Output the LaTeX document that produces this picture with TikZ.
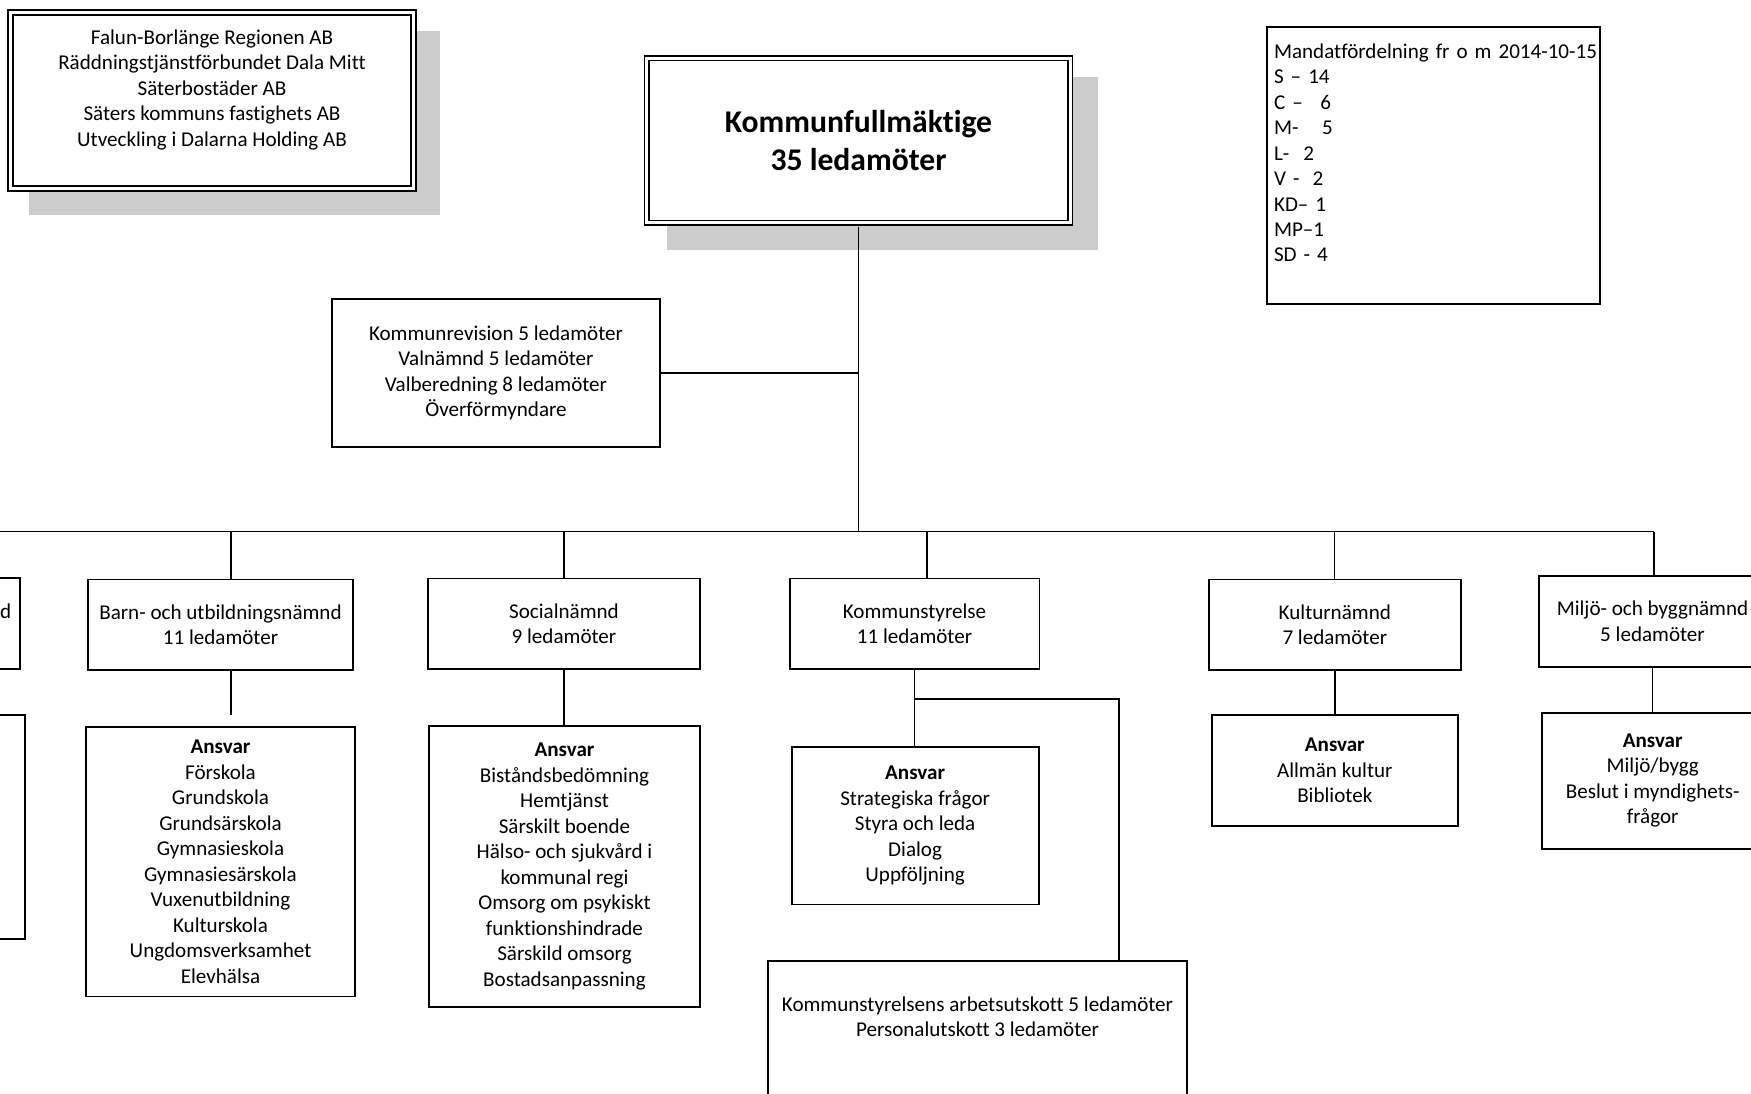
\documentclass[tikz,border=0pt]{standalone}
\usepackage{fontspec}
\setmainfont{Carlito}[Ligatures=NoCommon]
\newcommand\boxfont{\fontsize{12pt}{14.5pt}\selectfont}
\newcommand\headfont{\fontsize{18pt}{22pt}\selectfont\bfseries}

\begin{document}
\begin{tikzpicture}[x=0.02cm, y=-0.02cm,
		box/.style={draw, line width=1.1pt, fill=white, align=center, font=\boxfont, inner sep=0pt},
		dblbox/.style={box, double, line width=1pt, double distance=1.6pt},
		link/.style={line width=1.1pt},
		shade/.style={fill=black!20}]
	\useasboundingbox (0,0) rectangle (1751,1093);
	\clip (0,0) rectangle (1751,1093);

	% Shadows
	\fill[shade] (29,30.5) rectangle (440,215);
	\fill[shade] (667,77) rectangle (1097.5,250);

	% Top boxes
	\node[dblbox, minimum width=8.06cm, minimum height=3.52cm] (bolag) at (212,100.5)
		{Falun-Borlänge Regionen AB\\ Räddningstjänstförbundet Dala Mitt\\ Säterbostäder AB\\ Säters kommuns fastighets AB\\ Utveckling i Dalarna Holding AB\\ ~};
	\node[dblbox, minimum width=8.47cm, minimum height=3.29cm, font=\headfont] (kf) at (858.5,140.5)
		{Kommunfullmäktige\\ 35 ledamöter};
	\node[box, align=left, text width=6.38cm, inner xsep=0.14cm, minimum height=5.54cm] (mandat) at (1433.5,165.5)
		{\mbox{Mandatfördelning fr o m 2014-10-15}\\ S – 14\\ C –\hspace{10pt}6\\ M-\hspace{13.5pt}5\\ L-\hspace{8pt}2\\ V -\hspace{7.5pt}2\\ KD– 1\\ MP–1\\ SD - 4\\ ~};
	\node[box, minimum width=6.57cm, minimum height=2.95cm] (revision) at (496,373)
		{Kommunrevision 5 ledamöter\\ Valnämnd 5 ledamöter\\ Valberedning 8 ledamöter\\ Överförmyndare};

	% Boards
	\node[box, minimum width=4.9cm, minimum height=1.81cm] (cutnamnd) at (-102.5,623.5) {};
	\node[font=\boxfont, anchor=east, inner sep=0pt] (cutlabel) at (11.5,611) {d};
	\node[box, minimum width=5.3cm, minimum height=1.81cm] (barn) at (220.5,624.75) {Barn- och utbildningsnämnd\\ 11 ledamöter};
	\node[box, minimum width=5.45cm, minimum height=1.81cm] (social) at (564,623.75) {Socialnämnd\\ 9 ledamöter};
	\node[box, minimum width=5.0cm, minimum height=1.81cm] (ks) at (914.5,623.75) {Kommunstyrelse\\ 11 ledamöter};
	\node[box, minimum width=5.03cm, minimum height=1.81cm] (kultur) at (1334.8,624.75) {Kulturnämnd\\ 7 ledamöter};
	\node[box, minimum width=4.54cm, minimum height=1.81cm] (miljo) at (1652.5,621.35) {Miljö- och byggnämnd\\ 5 ledamöter};

	% Responsibilities
	\node[box, minimum width=4.9cm, minimum height=4.49cm] (cutansvar) at (-97.7,826.9) {};
	\node[box, minimum width=5.38cm, minimum height=5.39cm] (barnansvar) at (220.5,861.75)
		{\textbf{Ansvar}\\ Förskola\\ Grundskola\\ Grundsärskola\\ Gymnasieskola\\ Gymnasiesärskola\\ Vuxenutbildning\\ Kulturskola\\ Ungdomsverksamhet\\ Elevhälsa};
	\node[box, minimum width=5.43cm, minimum height=5.62cm] (socialansvar) at (564.5,866.5)
		{\textbf{Ansvar}\\ Biståndsbedömning\\ Hemtjänst\\ Särskilt boende\\ Hälso- och sjukvård i\\ kommunal regi\\ Omsorg om psykiskt\\ funktionshindrade\\ Särskild omsorg\\ Bostadsanpassning};
	\node[box, minimum width=4.94cm, minimum height=3.15cm] (ksansvar) at (915.1,825.75)
		{\textbf{Ansvar}\\ Strategiska frågor\\ Styra och leda\\ Dialog\\ Uppföljning};
	\node[box, minimum width=8.38cm, minimum height=3.24cm] (utskott) at (977.5,1042.4)
		{Kommunstyrelsens arbetsutskott 5 ledamöter\\ Personalutskott 3 ledamöter\\ ~\\ ~};
	\node[box, minimum width=4.93cm, minimum height=2.23cm] (kulturansvar) at (1334.8,770.35)
		{\textbf{Ansvar}\\ Allmän kultur\\ Bibliotek};
	\node[box, minimum width=4.43cm, minimum height=2.72cm] (miljoansvar) at (1652.7,780.6)
		{\textbf{Ansvar}\\ Miljö/bygg\\ Beslut i myndighets-\\ frågor};

	% Connectors
	\coordinate (busL) at (-300,531.5);
	\coordinate (busR) at (1654,531.5);
	\draw[link, shorten <=0.065cm] (kf.south) -- (kf.south |- busL);
	\draw[link] (revision.east) -- (revision.east -| kf.south);
	\draw[link] (busL) -- (busR);
	\foreach \x/\n in {231/barn, 564/social, 927/ks, 1334.5/kultur, 1654/miljo}
		\draw[link] (\x,531.5) -- (\n.north -| \x,0);

	\coordinate (barnend) at (231,714.7);
	\draw[link] (barn.south -| barnend) -- (barnend);
	\draw[link] (social.south) -- (social.south |- socialansvar.north);
	\draw[link] (ks.south) -- (ks.south |- ksansvar.north);
	\coordinate (ksknee) at (1119,699);
	\draw[link] (ks.south |- ksknee) -- (ksknee) -- (ksknee |- utskott.north);
	\draw[link] (kultur.south) -- (kultur.south |- kulturansvar.north);
	\draw[link] (miljo.south) -- (miljo.south |- miljoansvar.north);
\end{tikzpicture}
\end{document}
